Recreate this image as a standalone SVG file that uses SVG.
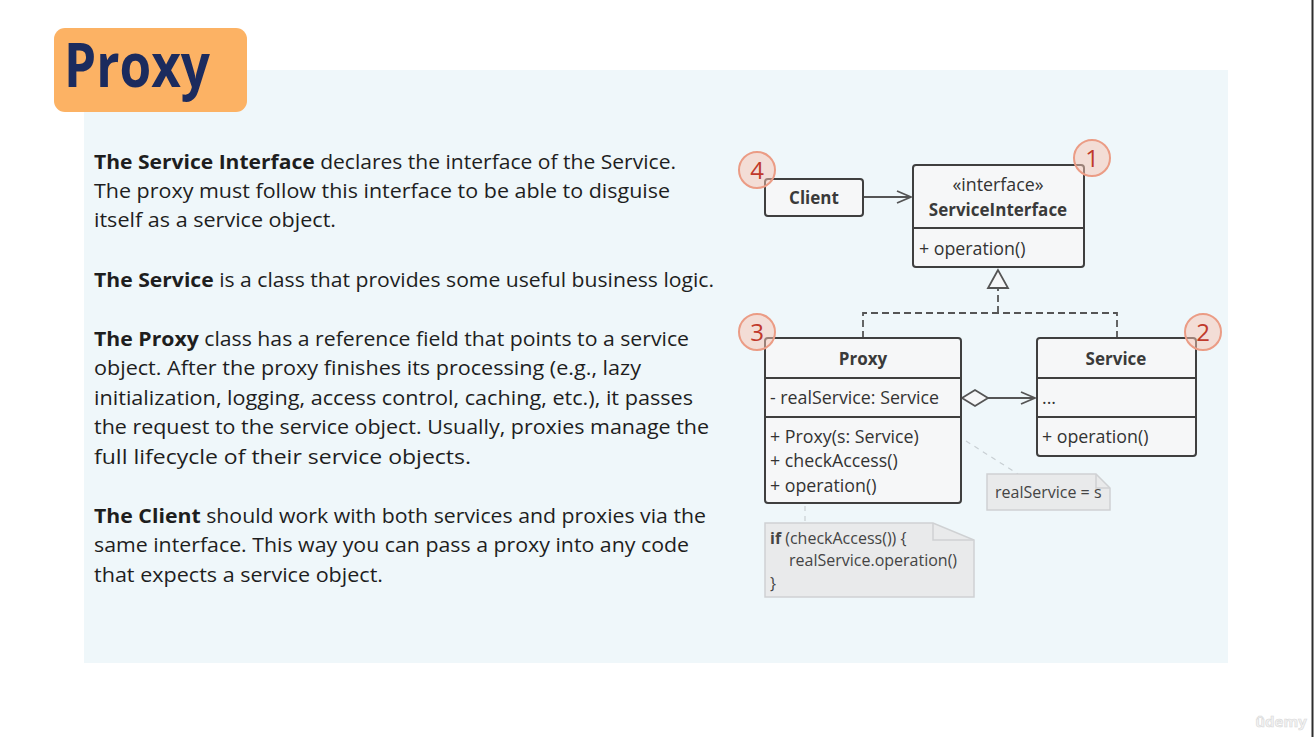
<svg xmlns="http://www.w3.org/2000/svg" width="1314" height="737" viewBox="0 0 1314 737">
  <defs>
    <style>
      .body { font-family: "Open Sans", "Noto Sans", sans-serif; font-size: 20.3px; fill: #1e1e1e; }
      .body .b { font-weight: bold; }
      .box { fill: #f6f7f8; stroke: #3f3f3f; stroke-width: 2; }
      .div { stroke: #3f3f3f; stroke-width: 2; }
      .uml { font-family: "Open Sans", "Noto Sans", sans-serif; font-size: 17.8px; fill: #333; }
      .umlb { font-family: "Open Sans", "Noto Sans", sans-serif; font-size: 17px; font-weight: bold; fill: #3a3a3a; }
      .dash { fill: none; stroke: #555; stroke-width: 1.8; stroke-dasharray: 7 4; }
      .link { fill: none; stroke: #555; stroke-width: 1.8; }
      .note { fill: #e9eaeb; stroke: #cfd1d3; stroke-width: 1.5; }
      .notetxt { font-family: "Open Sans", "Noto Sans", sans-serif; font-size: 16px; fill: #444; }
      .noteline { stroke: #c8cfd3; stroke-width: 1.2; stroke-dasharray: 5 5; }
      .badge circle { fill: #f8c3b2; fill-opacity: 0.5; stroke: #eb9c85; stroke-width: 2; }
      .badge text { font-family: "Open Sans", "Noto Sans", sans-serif; font-size: 24px; fill: #c0392b; text-anchor: middle; }
    </style>
    <marker id="open" viewBox="0 0 16 14" refX="15" refY="7" markerWidth="16" markerHeight="14" markerUnits="userSpaceOnUse" orient="auto">
      <path d="M1 1 L15 7 L1 13" fill="none" stroke="#555" stroke-width="1.8"/>
    </marker>
  </defs>

  <!-- page -->
  <rect x="0" y="0" width="1314" height="737" fill="#ffffff"/>
  <rect x="84" y="70" width="1144" height="593" fill="#eff7fa"/>
  <line x1="1312.5" y1="0" x2="1312.5" y2="737" stroke="#2e2e2e" stroke-width="2"/>

  <!-- title -->
  <g id="title">
    <rect x="54" y="28" width="193" height="84" rx="11" fill="#fcb264"/>
    <text x="64" y="87" font-family="'Open Sans', 'Noto Sans', sans-serif" font-size="60" font-weight="bold" fill="#1b2b5e" textLength="146" lengthAdjust="spacingAndGlyphs">Proxy</text>
  </g>

  <!-- description -->
  <g id="description" class="body">
    <text x="94" y="169" textLength="582" lengthAdjust="spacingAndGlyphs"><tspan class="b">The Service Interface</tspan> declares the interface of the Service.</text>
    <text x="94" y="198" textLength="576" lengthAdjust="spacingAndGlyphs">The proxy must follow this interface to be able to disguise</text>
    <text x="94" y="227" textLength="242" lengthAdjust="spacingAndGlyphs">itself as a service object.</text>
    <text x="94" y="287" textLength="620" lengthAdjust="spacingAndGlyphs"><tspan class="b">The Service</tspan> is a class that provides some useful business logic.</text>
    <text x="94" y="346" textLength="595" lengthAdjust="spacingAndGlyphs"><tspan class="b">The Proxy</tspan> class has a reference field that points to a service</text>
    <text x="94" y="375" textLength="547" lengthAdjust="spacingAndGlyphs">object. After the proxy finishes its processing (e.g., lazy</text>
    <text x="94" y="405" textLength="599" lengthAdjust="spacingAndGlyphs">initialization, logging, access control, caching, etc.), it passes</text>
    <text x="94" y="434" textLength="615" lengthAdjust="spacingAndGlyphs">the request to the service object. Usually, proxies manage the</text>
    <text x="94" y="464" textLength="377" lengthAdjust="spacingAndGlyphs">full lifecycle of their service objects.</text>
    <text x="94" y="523" textLength="612" lengthAdjust="spacingAndGlyphs"><tspan class="b">The Client</tspan> should work with both services and proxies via the</text>
    <text x="94" y="552" textLength="595" lengthAdjust="spacingAndGlyphs">same interface. This way you can pass a proxy into any code</text>
    <text x="94" y="582" textLength="289" lengthAdjust="spacingAndGlyphs">that expects a service object.</text>
  </g>

  <!-- connectors -->
  <g id="connectors">
    <line class="link" x1="864" y1="197" x2="911" y2="197" marker-end="url(#open)"/>
    <polyline class="dash" points="863,338 863,313 1117,313 1117,338"/>
    <line class="dash" x1="998" y1="313" x2="998" y2="288"/>
    <polygon points="998,270 988,288 1008,288" fill="#f6f7f8" stroke="#555" stroke-width="1.8"/>
    <polygon points="962,398 975,390 988,398 975,406" fill="#f6f7f8" stroke="#555" stroke-width="1.8"/>
    <line class="link" x1="988" y1="398" x2="1035" y2="398" marker-end="url(#open)"/>
    <line class="noteline" x1="966" y1="441" x2="1018" y2="474"/>
    <line class="noteline" x1="805" y1="506" x2="805" y2="522"/>
  </g>

  <!-- Client -->
  <g id="client">
    <rect class="box" x="765" y="179" width="98" height="37" rx="3"/>
    <text class="umlb" x="814" y="204" text-anchor="middle">Client</text>
  </g>

  <!-- ServiceInterface -->
  <g id="service-interface">
    <rect class="box" x="913" y="165" width="171" height="102" rx="3"/>
    <line class="div" x1="913" y1="228" x2="1084" y2="228"/>
    <text class="uml" x="998" y="191" text-anchor="middle">«interface»</text>
    <text class="umlb" x="998" y="216" text-anchor="middle">ServiceInterface</text>
    <text class="uml" x="919" y="255">+ operation()</text>
  </g>

  <!-- Proxy -->
  <g id="proxy">
    <rect class="box" x="765" y="338" width="196" height="165" rx="3"/>
    <line class="div" x1="765" y1="378" x2="961" y2="378"/>
    <line class="div" x1="765" y1="417" x2="961" y2="417"/>
    <text class="umlb" x="863" y="365" text-anchor="middle">Proxy</text>
    <text class="uml" x="770" y="404">- realService: Service</text>
    <text class="uml" x="770" y="443">+ Proxy(s: Service)</text>
    <text class="uml" x="770" y="467">+ checkAccess()</text>
    <text class="uml" x="770" y="492">+ operation()</text>
  </g>

  <!-- Service -->
  <g id="service">
    <rect class="box" x="1037" y="338" width="159" height="118" rx="3"/>
    <line class="div" x1="1037" y1="378" x2="1196" y2="378"/>
    <line class="div" x1="1037" y1="417" x2="1196" y2="417"/>
    <text class="umlb" x="1116" y="365" text-anchor="middle">Service</text>
    <text class="uml" x="1042" y="404">...</text>
    <text class="uml" x="1042" y="443">+ operation()</text>
  </g>

  <!-- notes -->
  <g id="note-realservice">
    <path class="note" d="M987,474 H1096 L1110,488 V510 H987 Z"/>
    <path d="M1096,474 V488 H1110" fill="none" stroke="#cfd1d3" stroke-width="1.5"/>
    <text class="notetxt" x="995" y="498">realService = s</text>
  </g>
  <g id="note-operation">
    <path class="note" d="M765,523 H933 L974,540 V597 H765 Z"/>
    <path d="M933,523 V540 H974" fill="none" stroke="#cfd1d3" stroke-width="1.5"/>
    <text class="notetxt" x="770" y="544"><tspan font-weight="bold">if</tspan> (checkAccess()) {</text>
    <text class="notetxt" x="789" y="566">realService.operation()</text>
    <text class="notetxt" x="770" y="589">}</text>
  </g>

  <!-- numbered badges -->
  <g id="badge-1" class="badge">
    <circle cx="1092" cy="158" r="18"/>
    <text x="1092" y="167">1</text>
  </g>
  <g id="badge-2" class="badge">
    <circle cx="1203" cy="332" r="18"/>
    <text x="1203" y="341">2</text>
  </g>
  <g id="badge-3" class="badge">
    <circle cx="757" cy="332" r="18"/>
    <text x="757" y="341">3</text>
  </g>
  <g id="badge-4" class="badge">
    <circle cx="757" cy="170" r="18"/>
    <text x="757" y="179">4</text>
  </g>

  <!-- watermark -->
  <text x="1281" y="727" font-family="'Open Sans', sans-serif" font-size="15" font-weight="bold" fill="#f3f3f3" stroke="#d8d8d8" stroke-width="0.6" text-anchor="middle">ûdemy</text>
</svg>
